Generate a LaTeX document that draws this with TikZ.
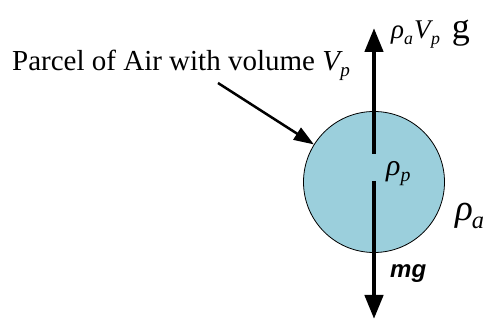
\documentclass[tikz,border=0pt]{standalone}
\usepackage{fontspec}
\setmainfont{Liberation Serif}
\setsansfont{Liberation Sans}
\definecolor{parcelfill}{HTML}{9BCFDC}
\usetikzlibrary{arrows.meta}
% italic symbol with a lowered, smaller subscript
\newcommand{\fsym}[3][0pt]{{\itshape #2\kern#1\raisebox{-0.2em}{\fontsize{0.66em}{0.66em}\selectfont #3}}}

\begin{document}
\begin{tikzpicture}[x=1pt,y=-1pt,
  force/.style={line width=4.5pt,-{Triangle[length=24pt,width=18pt]}},
  pointer/.style={line width=2.5pt,-{Triangle[length=20pt,width=14pt]}},
  lab/.style={anchor=base west,inner sep=0pt}]
\useasboundingbox (0,0) rectangle (485,320);
% the parcel itself
\node[circle,draw=black,line width=0.8pt,fill=parcelfill,minimum size=141pt,inner sep=0pt] (parcel) at (374,182) {};
% buoyancy up, weight down
\coordinate (upstart) at (374,154);
\coordinate (uptip) at (374,28);
\coordinate (downstart) at (374,181);
\coordinate (downtip) at (374,319);
\draw[force] (upstart) -- (uptip);
\draw[force] (downstart) -- (downtip);
% labels
\node[lab,font=\fontsize{27}{29}\selectfont] (buoy) at (391,39) {\fsym{ρ}{a}\kern1pt\fsym[0.5pt]{V}{p}\kern12pt{\fontsize{36}{38}\selectfont g}};
\node[lab,font=\fontsize{30}{32}\selectfont] (rhop) at (386,176) {\fsym{ρ}{p}};
\node[lab,font=\fontsize{37}{39}\selectfont] (rhoa) at (455,221) {\fsym[-1pt]{ρ}{a}};
\node[lab,font=\fontsize{24}{26}\sffamily\bfseries\itshape] (mg) at (390,278) {mg};
\node[lab,font=\fontsize{29}{31}\selectfont] (parcellab) at (12,71) {Parcel of Air with volume \fsym[0.5pt]{V}{p}};
\coordinate (ptail) at (218,83);
\draw[pointer] (ptail) -- (parcel.148);
\end{tikzpicture}
\end{document}
